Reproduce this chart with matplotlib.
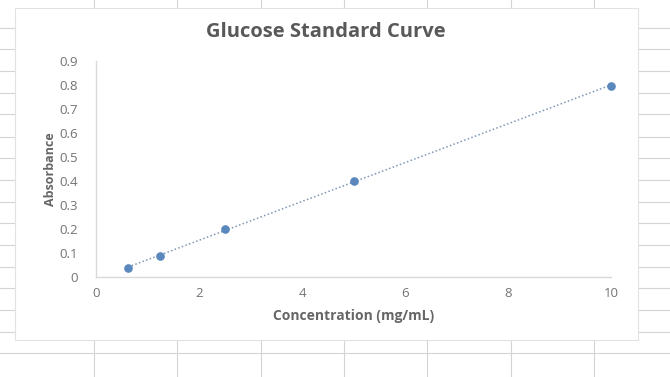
import numpy as np
import matplotlib
matplotlib.use("Agg")
import matplotlib.pyplot as plt
from matplotlib.lines import Line2D
from matplotlib.patches import Rectangle

# Glucose standards
concentration = [0.625, 1.25, 2.5, 5, 10]          # mg/mL
absorbance = [0.038, 0.088, 0.20, 0.40, 0.797]

x_ticks = [0, 2, 4, 6, 8, 10]
y_ticks = [0, 0.1, 0.2, 0.3, 0.4, 0.5, 0.6, 0.7, 0.8, 0.9]
y_tick_labels = ["0", "0.1", "0.2", "0.3", "0.4", "0.5", "0.6", "0.7", "0.8", "0.9"]

plt.rcParams["font.family"] = ["Open Sans", "DejaVu Sans"]

W, H = 670, 377
fig = plt.figure(figsize=(W / 100, H / 100), dpi=100)
fig.patch.set_facecolor("white")

# Spreadsheet cell grid behind the chart
grid_col = "#d4d4d4"
for gx in [94, 177, 261, 344, 427, 511, 594]:
    fig.add_artist(Line2D([gx / W, gx / W], [0.0, 1.0], color=grid_col, lw=0.8, zorder=0))
for gy in [28, 49, 71, 93, 114, 137, 158, 180, 202, 223, 245, 267, 288, 310, 332, 353]:
    fig.add_artist(Line2D([0.0, 1.0], [1 - gy / H, 1 - gy / H], color=grid_col, lw=0.8, zorder=0))

# Chart area
fig.add_artist(Rectangle((15 / W, 1 - 340 / H), 623 / W, 332 / H,
                         facecolor="white", edgecolor="#e2e2e2", lw=0.8, zorder=1))

ax = fig.add_axes([96 / W, 1 - 277 / H, 515 / W, 216 / H], zorder=2)
ax.set_facecolor("none")

# Linear trendline over the range of standards
coef = np.polyfit(concentration, absorbance, 1)
xt = np.array([concentration[0], concentration[-1]])
ax.plot(xt, np.polyval(coef, xt), linestyle=(0, (1, 1.5)), color="#7f98b8", lw=1.1, zorder=2)

ax.plot(concentration, absorbance, "o", color="#5a88bd", markersize=5.2, zorder=3, clip_on=False)

ax.set_xlim(0, 10)
ax.set_ylim(0, 0.9)
ax.set_xticks(x_ticks)
ax.set_yticks(y_ticks)
ax.set_yticklabels(y_tick_labels)

for side in ["top", "right"]:
    ax.spines[side].set_visible(False)
for side in ["left", "bottom"]:
    ax.spines[side].set_color("#d9d9d9")
    ax.spines[side].set_linewidth(1.0)

ax.tick_params(axis="both", length=0, labelsize=9.5, colors="#737373")
ax.tick_params(axis="x", pad=7)
ax.tick_params(axis="y", pad=13)

ax.set_xlabel("Concentration (mg/mL)", fontsize=10, fontweight="bold", color="#666666", labelpad=7)
ax.set_ylabel("Absorbance", fontsize=9, fontweight="bold", color="#666666", labelpad=2)

fig.text(326 / W, 1 - 32 / H, "Glucose Standard Curve", ha="center", va="center",
         fontsize=14.5, fontweight="bold", color="#595959", zorder=3)

fig.savefig("out.png", dpi=100)
